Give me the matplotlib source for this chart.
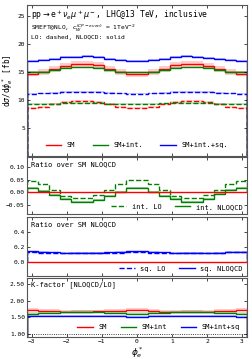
import matplotlib
matplotlib.use("Agg")
import matplotlib.pyplot as plt
import numpy as np

plt.rcParams['font.family'] = ['DejaVu Sans Mono']
plt.rcParams['mathtext.fontset'] = 'dejavusans'

# 20 bins in phi_e^* from -pi to pi
edges = np.linspace(-np.pi, np.pi, 21)

# dsigma/dphi [fb]
sm_lo = [8.62, 8.85, 9.25, 9.7, 9.9, 9.92, 9.65, 9.25, 8.82, 8.6,
         8.6, 8.85, 9.3, 9.7, 9.92, 9.9, 9.65, 9.25, 8.85, 8.62]
sm_int_lo = [9.3, 9.33, 9.4, 9.5, 9.55, 9.55, 9.5, 9.4, 9.33, 9.3,
             9.3, 9.33, 9.43, 9.5, 9.55, 9.55, 9.5, 9.4, 9.33, 9.3]
full_lo = [11.15, 11.2, 11.3, 11.42, 11.5, 11.5, 11.45, 11.3, 11.2, 11.15,
           11.15, 11.2, 11.3, 11.45, 11.5, 11.5, 11.42, 11.3, 11.2, 11.15]
sm_nlo = [14.75, 15.05, 15.6, 16.15, 16.45, 16.5, 16.2, 15.6, 15.05, 14.7,
          14.72, 15.1, 15.6, 16.2, 16.5, 16.45, 16.1, 15.55, 15.0, 14.75]
sm_int_nlo = [15.0, 15.12, 15.45, 15.75, 15.85, 15.85, 15.7, 15.4, 15.1, 14.95,
              14.95, 15.1, 15.4, 15.75, 15.85, 15.85, 15.7, 15.45, 15.12, 15.0]
full_nlo = [17.05, 17.15, 17.4, 17.65, 17.8, 17.82, 17.65, 17.4, 17.12, 17.0,
            17.0, 17.15, 17.42, 17.65, 17.82, 17.8, 17.6, 17.38, 17.1, 17.0]

# relative scale uncertainties (band half widths)
unc_sm_lo, unc_sm_int_lo, unc_full_lo = 0.02, 0.015, 0.012
unc_sm_nlo, unc_sm_int_nlo, unc_full_nlo = 0.035, 0.01, 0.01

sm_lo, sm_int_lo, full_lo = map(np.array, (sm_lo, sm_int_lo, full_lo))
sm_nlo, sm_int_nlo, full_nlo = map(np.array, (sm_nlo, sm_int_nlo, full_nlo))

red, green, blue = '#ff0000', '#008000', '#0000ff'
lw = 1.0
fs = 5

fig = plt.figure(figsize=(2.52, 3.59), dpi=100)
L, W = 0.107, 0.873
ax0 = fig.add_axes([L, 0.565, W, 0.421])
ax1 = fig.add_axes([L, 0.404, W, 0.159])
ax2 = fig.add_axes([L, 0.231, W, 0.165])
ax3 = fig.add_axes([L, 0.061, W, 0.165])


def band(ax, y, rel, color, alpha, ls='-'):
    ax.stairs(y * (1 + rel), edges, baseline=y * (1 - rel), fill=True,
              color=color, alpha=alpha, lw=0)
    return ax.stairs(y, edges, color=color, lw=lw, ls=ls)


# main panel
band(ax0, sm_nlo, unc_sm_nlo, red, 0.2)
band(ax0, sm_int_nlo, unc_sm_int_nlo, green, 0.25)
band(ax0, full_nlo, unc_full_nlo, blue, 0.25)
band(ax0, sm_lo, unc_sm_lo, red, 0.15, '--')
band(ax0, sm_int_lo, unc_sm_int_lo, green, 0.2, '--')
band(ax0, full_lo, unc_full_lo, blue, 0.2, '--')
ax0.set_ylim(0, 27)
ax0.set_yticks([5, 10, 15, 20, 25])
ax0.set_ylabel(r'd$\sigma$/d$\phi_e^*$ [fb]', fontsize=fs + 0.5, labelpad=2)
ax0.text(0.02, 0.98, r'pp$\rightarrow$e$^+\nu_e\mu^+\mu^-$, LHC@13 TeV, inclusive',
         transform=ax0.transAxes, fontsize=5.8, va='top')
ax0.text(0.02, 0.885, r'SMEFT@NLO, $c_{W}^{(CP-even)}$ = 1TeV$^{-2}$',
         transform=ax0.transAxes, fontsize=4.5, va='top')
ax0.text(0.02, 0.80, 'LO: dashed, NLOQCD: solid',
         transform=ax0.transAxes, fontsize=4.5, va='top')
h = [plt.Line2D([], [], color=c, lw=lw) for c in (red, green, blue)]
ax0.legend(h, ['SM', 'SM+int.', 'SM+int.+sq.'], loc='lower center', ncol=3,
           frameon=False, fontsize=fs, handlelength=2.2, columnspacing=2.5,
           bbox_to_anchor=(0.5, 0.01))

# interference ratio over SM NLO
r_int_lo = (sm_int_lo - sm_lo) / sm_nlo
r_int_nlo = (sm_int_nlo - sm_nlo) / sm_nlo
ax1.axhline(0, color=red, lw=lw)
ax1.stairs(r_int_lo, edges, color=green, lw=lw, ls='--')
ax1.stairs(r_int_nlo + 0.004, edges, baseline=r_int_nlo - 0.004, fill=True,
           color=green, alpha=0.35, lw=0)
ax1.stairs(r_int_nlo, edges, color=green, lw=lw)
ax1.set_ylim(-0.085, 0.14)
ax1.set_yticks([-0.05, 0.0, 0.05, 0.10])
ax1.set_yticklabels(['\u22120.05', '0.00', '0.05', '0.10'])
ax1.text(0.02, 0.93, 'Ratio over SM NLOQCD', transform=ax1.transAxes,
         fontsize=fs, va='top')
ax1.legend([plt.Line2D([], [], color=green, lw=lw, ls='--'),
            plt.Line2D([], [], color=green, lw=lw)],
           ['int. LO', 'int. NLOQCD'], loc='lower right', ncol=2,
           frameon=False, fontsize=fs, handlelength=2.2, borderaxespad=0.2)

# squared ratio over SM NLO
r_sq_lo = (full_lo - sm_int_lo) / sm_nlo
r_sq_nlo = (full_nlo - sm_int_nlo) / sm_nlo
ax2.axhline(0, color=red, lw=lw)
ax2.stairs(r_sq_lo + 0.008, edges, baseline=r_sq_lo - 0.008, fill=True,
           color=blue, alpha=0.15, lw=0)
ax2.stairs(r_sq_nlo + 0.006, edges, baseline=r_sq_nlo - 0.006, fill=True,
           color=blue, alpha=0.2, lw=0)
ax2.stairs(r_sq_lo, edges, color=blue, lw=lw, ls='--')
ax2.stairs(r_sq_nlo, edges, color=blue, lw=lw)
ax2.set_ylim(-0.19, 0.6)
ax2.set_yticks([0.0, 0.2, 0.4])
ax2.set_yticklabels(['0.0', '0.2', '0.4'])
ax2.text(0.02, 0.93, 'Ratio over SM NLOQCD', transform=ax2.transAxes,
         fontsize=fs, va='top')
ax2.legend([plt.Line2D([], [], color=blue, lw=lw, ls='--'),
            plt.Line2D([], [], color=blue, lw=lw)],
           ['sq. LO', 'sq. NLOQCD'], loc='lower right', ncol=2,
           frameon=False, fontsize=fs, handlelength=2.2, borderaxespad=0.2)

# K-factors
k_sm = sm_nlo / sm_lo
k_int = sm_int_nlo / sm_int_lo
k_full = full_nlo / full_lo
ax3.axhline(1.0, color='k', lw=0.6, ls=':')
for k, c, u in ((k_sm, red, 0.035), (k_int, green, 0.03), (k_full, blue, 0.02)):
    ax3.stairs(k * (1 + u), edges, baseline=k, fill=True, color=c, alpha=0.2, lw=0)
    ax3.stairs(k, edges, color=c, lw=lw)
ax3.set_ylim(0.9, 2.7)
ax3.set_yticks([1.0, 1.5, 2.0, 2.5])
ax3.set_yticklabels(['1.00', '1.50', '2.00', '2.50'])
ax3.text(0.02, 0.95, 'K-factor [NLOQCD/LO]', transform=ax3.transAxes,
         fontsize=fs, va='top')
ax3.legend(h, ['SM', 'SM+int', 'SM+int+sq'], loc='lower right', ncol=3,
           frameon=False, fontsize=fs, handlelength=2.2, columnspacing=2.0,
           borderaxespad=0.6)
ax3.set_xlabel(r'$\phi_e^*$', fontsize=6.5, labelpad=1)

for ax in (ax0, ax1, ax2, ax3):
    ax.set_xlim(-np.pi, np.pi)
    ax.set_xticks([-3, -2, -1, 0, 1, 2, 3])
    ax.tick_params(direction='in', top=True, right=True, labelsize=fs - 0.5,
                   length=2, width=0.5, pad=1.5)
    for s in ax.spines.values():
        s.set_linewidth(0.8)
        s.set_color('#555555')
    if ax is not ax3:
        ax.set_xticklabels([])
ax3.set_xticklabels(['\u22123', '\u22122', '\u22121', '0', '1', '2', '3'])

fig.savefig('out.png', dpi=100)
